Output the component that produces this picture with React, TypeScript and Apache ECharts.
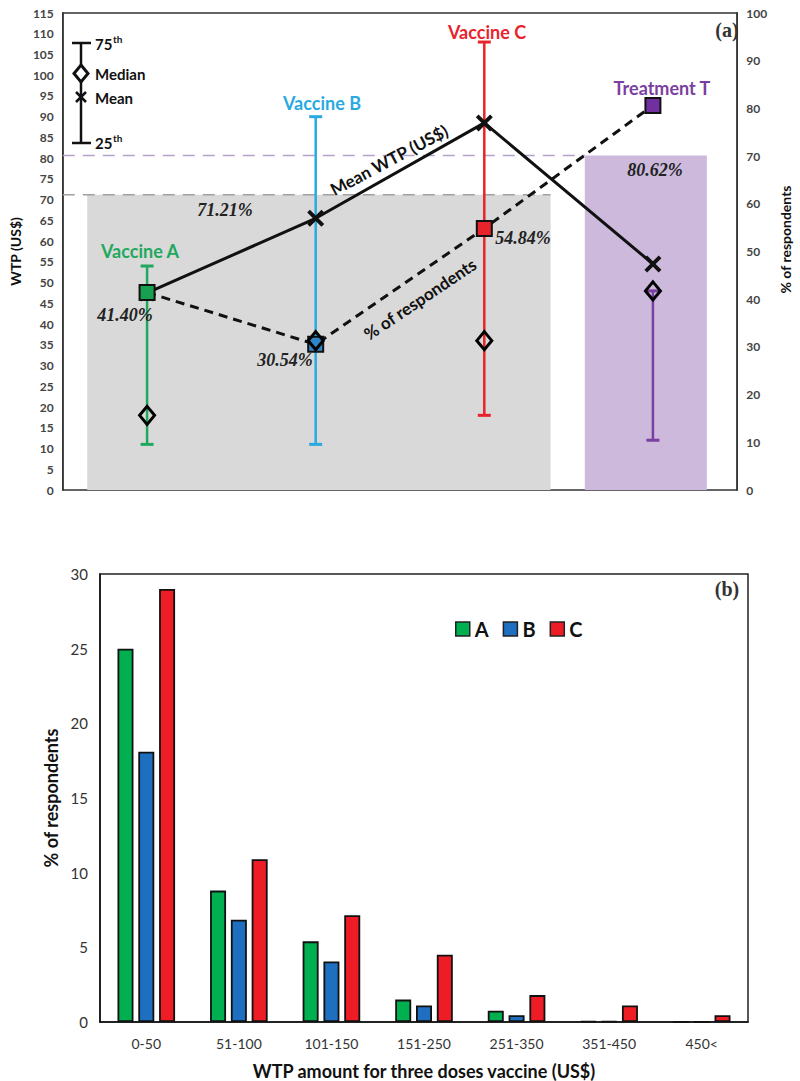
import React, { useEffect, useRef } from "react";
import * as echarts from "echarts";

// ---- Panel (a) data ----
const groups = ["Vaccine A", "Vaccine B", "Vaccine C", "Treatment T"];
const p25 = [11, 11, 18, 12];
const p75 = [54, 90, 108, 48];
const medianWTP = [18, 36, 36, 48];
const meanWTP = [47.5, 65.5, 88.5, 54.5];
const pctRespondents = [41.4, 30.54, 54.84, 80.62];
const acceptance = [71.21, 80.62];
const acceptanceLabels = ["71.21%", "80.62%"];
const pctLabels = ["41.40%", "30.54%", "54.84%"];
const leftTicks = { min: 0, max: 115, interval: 5 };
const rightTicks = { min: 0, max: 100, interval: 10 };

// ---- Panel (b) data ----
const wtpBins = ["0-50", "51-100", "101-150", "151-250", "251-350", "351-450", "450<"];
const vacA = [25, 8.8, 5.4, 1.5, 0.75, 0.05, 0];
const vacB = [18.1, 6.85, 4.05, 1.1, 0.45, 0.05, 0];
const vacC = [29, 10.9, 7.15, 4.5, 1.8, 1.1, 0.45];

// ---- styling / layout constants ----
const groupColors = ["#1fa85e", "#2aa9e0", "#e8232b", "#7a3fa0"];
const squareColors = ["#17a04f", "#2e86c8", "#e8232b", "#7030a0"];
const shadeX0 = [-0.355, 2.596];
const shadeX1 = [2.393, 3.32];
const dashEnd = [2.393, 2.596];
const shadeColors = ["#d9d9d9", "#ccb9dc"];
const dashColors = ["#a0a0a0", "#b4a2cc"];
const SANS = "Lato, 'Open Sans', sans-serif";
const SERIF = "'Liberation Serif', 'DejaVu Serif', serif";
const X_PATH =
  "path://M0,1.6L1.6,0L5,3.4L8.4,0L10,1.6L6.6,5L10,8.4L8.4,10L5,6.6L1.6,10L0,8.4L3.4,5Z";

function txt(x: number, y: number, text: string, style: any, rotation = 0) {
  return {
    type: "text",
    x,
    y,
    rotation,
    z: 100,
    style: { text, align: "center", verticalAlign: "middle", ...style },
  };
}

export default function App() {
  const ref = useRef<HTMLDivElement>(null);
  useEffect(() => {
    if (!ref.current) return;
    const chart = echarts.init(ref.current, null, { renderer: "svg" });
    const deg = Math.PI / 180;
    const pctStyle = { fontFamily: SERIF, fontStyle: "italic", fontWeight: "bold", fontSize: 18, fill: "#222" };
    const grpStyle = (c: string) => ({ fontFamily: SANS, fontWeight: "bold", fontSize: 18, fill: c });
    const legStyle = { fontFamily: SANS, fontWeight: "bold", fontSize: 15, fill: "#111", align: "left" };
    const lineLbl = { fontFamily: SANS, fontWeight: "bold", fontSize: 17, fill: "#111" };

    const option: any = {
      animation: false,
      backgroundColor: "#ffffff",
      grid: [
        { left: 58, top: 13, width: 690, height: 477, show: true, borderColor: "#333", borderWidth: 1.5, backgroundColor: "transparent" },
        { left: 100, top: 574, width: 648, height: 451, show: true, borderColor: "#222", borderWidth: 1.5, backgroundColor: "transparent" },
      ],
      xAxis: [
        { type: "value", gridIndex: 0, min: -0.5, max: 3.5, show: false },
        {
          type: "category",
          gridIndex: 1,
          data: wtpBins,
          axisTick: { show: false },
          axisLine: { lineStyle: { color: "#111", width: 1.5 } },
          axisLabel: { fontFamily: SANS, fontSize: 14, color: "#333", margin: 14 },
          name: "WTP amount for three doses vaccine (US$)",
          nameLocation: "middle",
          nameGap: 40,
          nameTextStyle: { fontFamily: SANS, fontWeight: "bold", fontSize: 18, color: "#111" },
        },
      ],
      yAxis: [
        {
          type: "value",
          gridIndex: 0,
          position: "left",
          ...leftTicks,
          splitLine: { show: false },
          axisTick: { show: false },
          axisLine: { show: true, onZero: false, lineStyle: { color: "#333", width: 1.5 } },
          axisLabel: { fontFamily: SANS, fontWeight: "bold", fontSize: 12, color: "#444", margin: 9 },
          name: "WTP (US$)",
          nameLocation: "middle",
          nameGap: 36,
          nameTextStyle: { fontFamily: SANS, fontWeight: "bold", fontSize: 14, color: "#111" },
        },
        {
          type: "value",
          gridIndex: 0,
          position: "right",
          ...rightTicks,
          splitLine: { show: false },
          axisTick: { show: false },
          axisLine: { show: true, onZero: false, lineStyle: { color: "#333", width: 1.5 } },
          axisLabel: { fontFamily: SANS, fontWeight: "bold", fontSize: 12, color: "#444", margin: 9 },
          name: "% of respondents",
          nameLocation: "middle",
          nameGap: 36,
          nameTextStyle: { fontFamily: SANS, fontWeight: "bold", fontSize: 14, color: "#111", padding: [0, 0, 0, 24] },
        },
        {
          type: "value",
          gridIndex: 1,
          min: 0,
          max: 30,
          interval: 5,
          splitLine: { show: false },
          axisTick: { show: false },
          axisLine: { show: true, onZero: false, lineStyle: { color: "#111", width: 1.5 } },
          axisLabel: { fontFamily: SANS, fontSize: 15, color: "#333", margin: 12 },
          name: "% of respondents",
          nameLocation: "middle",
          nameGap: 36,
          nameTextStyle: { fontFamily: SANS, fontWeight: "bold", fontSize: 18, color: "#111" },
        },
      ],
      legend: {
        data: ["A", "B", "C"],
        left: 450,
        top: 614,
        icon: "rect",
        itemWidth: 14,
        itemHeight: 14,
        itemGap: 14,
        itemStyle: { borderColor: "#222", borderWidth: 1.5 },
        textStyle: { fontFamily: SANS, fontWeight: "bold", fontSize: 20, color: "#111" },
      },
      series: [
        {
          type: "custom",
          name: "acceptance",
          xAxisIndex: 0,
          yAxisIndex: 0,
          z: 1,
          clip: false,
          data: acceptance.map((v, i) => [shadeX0[i], shadeX1[i], v, dashEnd[i], i]),
          renderItem: (params: any, api: any) => {
            const i = api.value(4);
            const a = api.coord([api.value(0), 0]);
            const b = api.coord([api.value(1), api.value(2)]);
            const l0 = api.coord([-0.5, api.value(2)]);
            const l1 = api.coord([api.value(3), api.value(2)]);
            return {
              type: "group",
              children: [
                { type: "rect", shape: { x: a[0], y: b[1], width: b[0] - a[0], height: a[1] - b[1] }, style: { fill: shadeColors[i] } },
                {
                  type: "line",
                  shape: { x1: l0[0], y1: l0[1], x2: l1[0], y2: l1[1] },
                  style: { stroke: dashColors[i], lineWidth: 1.5, lineDash: [12, 8] },
                },
              ],
            };
          },
        },
        {
          type: "custom",
          name: "IQR",
          xAxisIndex: 0,
          yAxisIndex: 0,
          z: 2,
          data: groups.map((g, i) => [i, p25[i], p75[i]]),
          renderItem: (params: any, api: any) => {
            const i = params.dataIndex;
            const lo = api.coord([api.value(0), api.value(1)]);
            const hi = api.coord([api.value(0), api.value(2)]);
            const c = groupColors[i];
            const hw = 6.5;
            return {
              type: "group",
              children: [
                { type: "line", shape: { x1: lo[0], y1: lo[1], x2: hi[0], y2: hi[1] }, style: { stroke: c, lineWidth: 2.5 } },
                { type: "line", shape: { x1: lo[0] - hw, y1: lo[1], x2: lo[0] + hw, y2: lo[1] }, style: { stroke: c, lineWidth: 3 } },
                { type: "line", shape: { x1: hi[0] - hw, y1: hi[1], x2: hi[0] + hw, y2: hi[1] }, style: { stroke: c, lineWidth: 3 } },
              ],
            };
          },
        },
        {
          type: "line",
          name: "Mean WTP (US$)",
          xAxisIndex: 0,
          yAxisIndex: 0,
          z: 3,
          data: meanWTP.map((v, i) => [i, v]),
          symbol: X_PATH,
          symbolSize: 17,
          itemStyle: { color: "#111", opacity: 1 },
          lineStyle: { color: "#111", width: 3 },
        },
        {
          type: "line",
          name: "% of respondents",
          xAxisIndex: 0,
          yAxisIndex: 1,
          z: 4,
          data: pctRespondents.map((v, i) => ({ value: [i, v], itemStyle: { color: squareColors[i] } })),
          symbol: "rect",
          symbolSize: 15,
          itemStyle: { borderColor: "#111", borderWidth: 2, opacity: 1 },
          lineStyle: { color: "#111", width: 3, type: [9, 6] },
        },
        {
          type: "scatter",
          name: "Median",
          xAxisIndex: 0,
          yAxisIndex: 0,
          z: 5,
          data: medianWTP.map((v, i) => [i, v]),
          symbol: "diamond",
          symbolSize: [15, 18],
          itemStyle: { color: "rgba(255,255,255,0)", borderColor: "#000", borderWidth: 3, opacity: 1 },
        },
        ...[
          { name: "A", data: vacA, color: "#00b050" },
          { name: "B", data: vacB, color: "#1f6fc0" },
          { name: "C", data: vacC, color: "#ee1c25" },
        ].map((s) => ({
          type: "bar",
          name: s.name,
          xAxisIndex: 1,
          yAxisIndex: 2,
          data: s.data,
          barWidth: 16,
          barGap: "30%",
          itemStyle: { color: s.color, borderColor: "#111", borderWidth: 1.8 },
        })),
      ],
      graphic: [
        // legend key for panel (a)
        { type: "line", z: 100, shape: { x1: 81, y1: 43, x2: 81, y2: 143 }, style: { stroke: "#111", lineWidth: 2.5 } },
        { type: "line", z: 100, shape: { x1: 72, y1: 43, x2: 91, y2: 43 }, style: { stroke: "#111", lineWidth: 2.5 } },
        { type: "line", z: 100, shape: { x1: 72, y1: 143, x2: 91, y2: 143 }, style: { stroke: "#111", lineWidth: 2.5 } },
        { type: "polygon", z: 101, shape: { points: [[81, 65], [88, 73.5], [81, 82], [74, 73.5]] }, style: { fill: "#fff", stroke: "#111", lineWidth: 3 } },
        { type: "line", z: 101, shape: { x1: 76, y1: 92, x2: 86, y2: 102 }, style: { stroke: "#111", lineWidth: 2.5 } },
        { type: "line", z: 101, shape: { x1: 86, y1: 92, x2: 76, y2: 102 }, style: { stroke: "#111", lineWidth: 2.5 } },
        txt(95, 44, "75", legStyle),
        txt(113, 39, "th", { ...legStyle, fontSize: 10 }),
        txt(95, 74, "Median", legStyle),
        txt(95, 98, "Mean", legStyle),
        txt(95, 143, "25", legStyle),
        txt(113, 138, "th", { ...legStyle, fontSize: 10 }),
        // group labels
        txt(140, 251, groups[0], grpStyle(groupColors[0])),
        txt(322, 103, groups[1], grpStyle(groupColors[1])),
        txt(487, 32, groups[2], grpStyle(groupColors[2])),
        txt(662, 88, groups[3], grpStyle(groupColors[3])),
        // percentage annotations
        txt(225, 210, acceptanceLabels[0], pctStyle),
        txt(655, 170, acceptanceLabels[1], pctStyle),
        txt(125, 315, pctLabels[0], pctStyle),
        txt(285, 360, pctLabels[1], pctStyle),
        txt(523, 238, pctLabels[2], pctStyle),
        // line labels
        txt(389, 160, "Mean WTP (US$)", lineLbl, 28 * deg),
        txt(420, 299, "% of respondents", lineLbl, 34 * deg),
        // panel letters
        txt(727, 30, "(a)", { fontFamily: SERIF, fontWeight: "bold", fontSize: 20, fill: "#333" }),
        txt(727, 589, "(b)", { fontFamily: SERIF, fontWeight: "bold", fontSize: 20, fill: "#333" }),
      ],
    };
    chart.setOption(option);
    return () => chart.dispose();
  }, []);
  return <div ref={ref} style={{ position: "absolute", left: 0, top: 0, width: 800, height: 1081 }} />;
}
